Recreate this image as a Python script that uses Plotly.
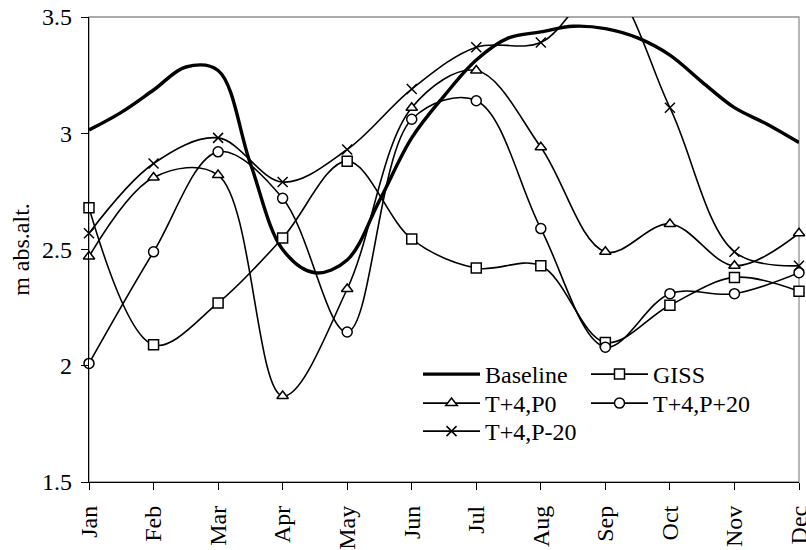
import numpy as np
import plotly.graph_objects as go

months = ["Jan", "Feb", "Mar", "Apr", "May", "Jun", "Jul", "Aug", "Sep", "Oct", "Nov", "Dec"]
# Baseline read at half-month steps (Jan, mid Jan-Feb, Feb, ...)
baseline_semimonthly = [3.014, 3.09, 3.186, 3.285, 3.27, 2.87, 2.50, 2.40, 2.455, 2.71, 2.98, 3.16,
                        3.315, 3.41, 3.436, 3.46, 3.45, 3.41, 3.336, 3.22, 3.11, 3.04, 2.96]
giss = [2.68, 2.09, 2.27, 2.55, 2.88, 2.545, 2.42, 2.43, 2.10, 2.26, 2.38, 2.32]
p0 = [2.47, 2.81, 2.82, 1.87, 2.33, 3.11, 3.27, 2.94, 2.49, 2.61, 2.43, 2.57]
pplus20 = [2.01, 2.49, 2.92, 2.72, 2.145, 3.06, 3.14, 2.59, 2.08, 2.31, 2.31, 2.40]
pminus20 = [2.57, 2.87, 2.98, 2.79, 2.93, 3.19, 3.37, 3.39, 3.64, 3.11, 2.49, 2.43]

FONT = "Liberation Serif"
x = list(range(len(months)))
xb = list(np.arange(len(baseline_semimonthly)) / 2.0)

fig = go.Figure()

def add(name, xs, y, symbol=None, width=1.6, legend="legend", fill="white"):
    kw = dict(x=xs, y=y, name=name, legend=legend,
              line=dict(color="black", width=width, shape="spline", smoothing=1.0),
              cliponaxis=False)
    if symbol:
        kw["mode"] = "lines+markers"
        kw["marker"] = dict(symbol=symbol, size=10, color=fill, line=dict(color="black", width=1.5))
    else:
        kw["mode"] = "lines"
    fig.add_trace(go.Scatter(**kw))

add("Baseline", xb, baseline_semimonthly, None, 3.4, "legend")
add("GISS", x, giss, "square", legend="legend2")
add("T+4,P0", x, p0, "triangle-up", legend="legend3")
add("T+4,P+20", x, pplus20, "circle", legend="legend4")
add("T+4,P-20", x, pminus20, "x-thin", legend="legend5", fill="black")

def leg(xp, yp):
    return dict(x=xp, y=yp, orientation="v", yanchor="top", xanchor="left", itemwidth=57,
                bgcolor="rgba(0,0,0,0)", font=dict(size=24, family=FONT), tracegroupgap=0)

col1, col2 = 0.4634, 0.7000
row1, row2, row3 = 0.2796, 0.2172, 0.157

fig.update_layout(
    width=806, height=550,
    margin=dict(l=89, r=7, t=17, b=68),
    paper_bgcolor="white", plot_bgcolor="white",
    font=dict(family=FONT, size=24, color="black"),
    showlegend=True,
    legend=leg(col1, row1),
    legend2=leg(col2, row1),
    legend3=leg(col1, row2),
    legend4=leg(col2, row2),
    legend5=leg(col1, row3),
    shapes=[dict(type="rect", xref="paper", yref="paper", x0=0, y0=0, x1=1, y1=1,
                 line=dict(color="#909090", width=1.3), layer="below")],
)
fig.update_xaxes(range=[0, 11], tickmode="array", tickvals=x, ticktext=months, tickangle=-90,
                 automargin=False,
                 showgrid=False, zeroline=False, showline=True, linecolor="black", linewidth=1.3,
                 ticks="outside", ticklen=7, tickcolor="black", tickwidth=1.3,
                 ticklabeloverflow="allow", ticklabelstandoff=6,
                 tickfont=dict(size=24, family=FONT))
fig.update_yaxes(range=[1.5, 3.5], tickmode="array", tickvals=[1.5, 2, 2.5, 3, 3.5],
                 ticktext=["1.5", "2", "2.5", "3", "3.5"],
                 automargin=False,
                 showgrid=False, zeroline=False, showline=True, linecolor="black", linewidth=1.3,
                 ticks="outside", ticklen=7, tickcolor="black", tickwidth=1.3,
                 ticklabelstandoff=4,
                 tickfont=dict(size=24, family=FONT),
                 title=dict(text="m abs.alt.", font=dict(size=24, family=FONT), standoff=5))

fig.write_html("out.html")
